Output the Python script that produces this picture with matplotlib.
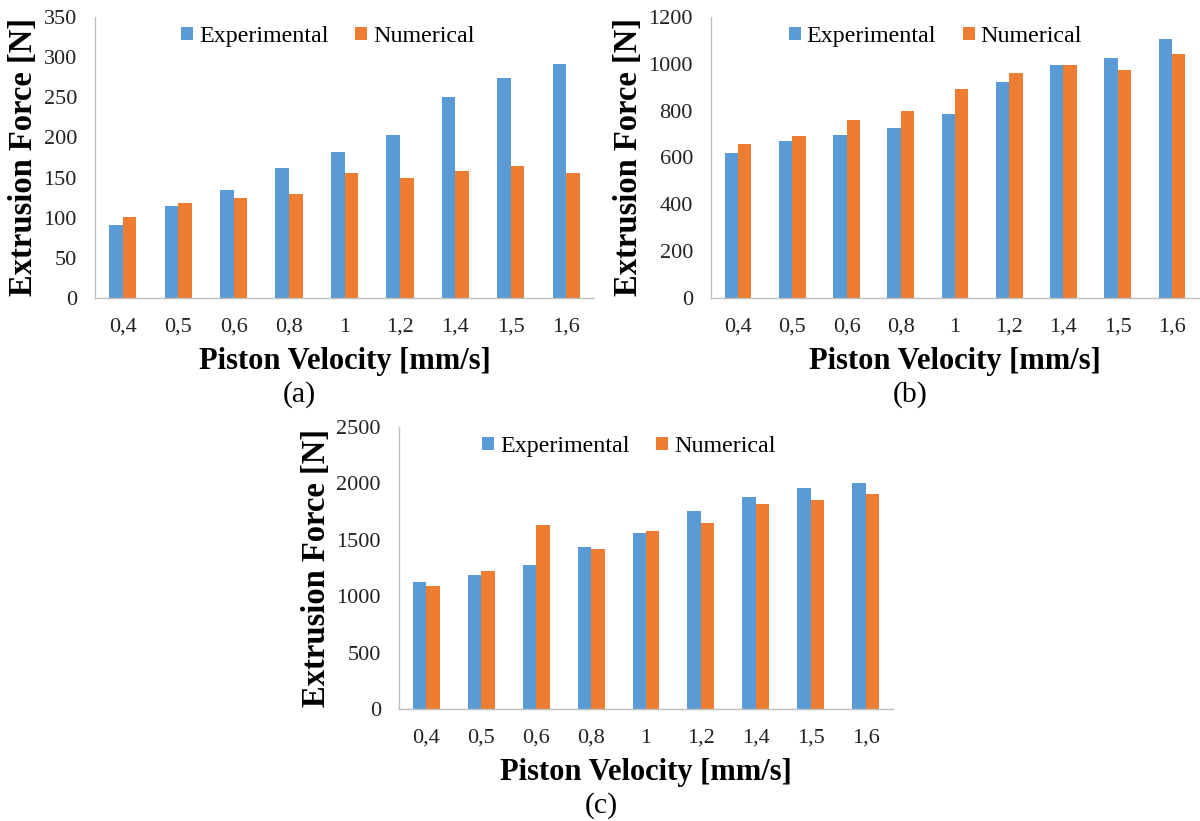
import matplotlib
matplotlib.use("Agg")
import matplotlib.pyplot as plt
import numpy as np

categories = ["0,4", "0,5", "0,6", "0,8", "1", "1,2", "1,4", "1,5", "1,6"]

exp_a = [91, 115, 135, 162, 182, 203, 250, 274, 292]
num_a = [101, 118, 124, 130, 156, 150, 158, 165, 156]

exp_b = [619, 672, 697, 726, 785, 922, 995, 1027, 1108]
num_b = [656, 693, 760, 798, 892, 961, 995, 974, 1044]

exp_c = [1125, 1192, 1275, 1440, 1561, 1753, 1883, 1960, 2007]
num_c = [1086, 1222, 1635, 1420, 1582, 1647, 1815, 1851, 1910]

ylims = [350, 1200, 2500]
ysteps = [50, 200, 500]
panel_labels = ["(a)", "(b)", "(c)"]

BLUE = "#5B9BD5"
ORANGE = "#ED7D31"
SPINE = "#BFBFBF"
SERIF = ["Liberation Serif", "DejaVu Serif"]

plt.rcParams["font.family"] = SERIF

W, H = 1200, 821
fig = plt.figure(figsize=(W / 100, H / 100), dpi=100)

# axes rectangles in pixels: left, right, top, bottom
rects = [(95, 594, 17, 298), (711, 1199, 17, 298), (399, 893, 427, 709)]
legend_anchor = [0.467, 0.46, 0.466]
datasets = [(exp_a, num_a), (exp_b, num_b), (exp_c, num_c)]

for (l, r, t, b), (ev, nv), ymax, ystep, plab, lx in zip(rects, datasets, ylims, ysteps,
                                                        panel_labels, legend_anchor):
    ax = fig.add_axes([l / W, 1 - b / H, (r - l) / W, (b - t) / H])
    x = np.arange(len(categories))
    w = 0.245
    ax.bar(x - w / 2, ev, width=w, color=BLUE, label="Experimental")
    ax.bar(x + w / 2, nv, width=w, color=ORANGE, label="Numerical")
    ax.set_xlim(-0.5, len(categories) - 0.5)
    ax.set_ylim(0, ymax)
    ax.set_yticks(np.arange(0, ymax + 1, ystep))
    ax.set_xticks(x)
    ax.set_xticklabels(categories)
    for s in ["top", "right"]:
        ax.spines[s].set_visible(False)
    for s in ["left", "bottom"]:
        ax.spines[s].set_color(SPINE)
        ax.spines[s].set_linewidth(1.0)
    ax.tick_params(axis="both", length=0, labelsize=16, colors="#222222")
    ax.tick_params(axis="x", pad=24.5)
    ax.tick_params(axis="y", pad=13)
    for lab in ax.get_xticklabels():
        lab.set_verticalalignment("baseline")
    ax.set_ylabel("Extrusion Force [N]", fontsize=23.5, fontweight="bold", labelpad=3)
    ax.set_xlabel("Piston Velocity [mm/s]", fontsize=22, fontweight="bold", labelpad=7)
    ax.legend(loc="upper center", bbox_to_anchor=(lx, 1.045), ncol=2, frameon=False,
              fontsize=17.3, handlelength=0.5, handleheight=0.5, handletextpad=0.25,
              columnspacing=1.1)
    cx = (l + r) / 2 - 45
    fig.text(cx / W, 1 - (b + 97) / H, plab, ha="center", va="center", fontsize=21.5)

fig.savefig("out.png", dpi=100, facecolor="white")
